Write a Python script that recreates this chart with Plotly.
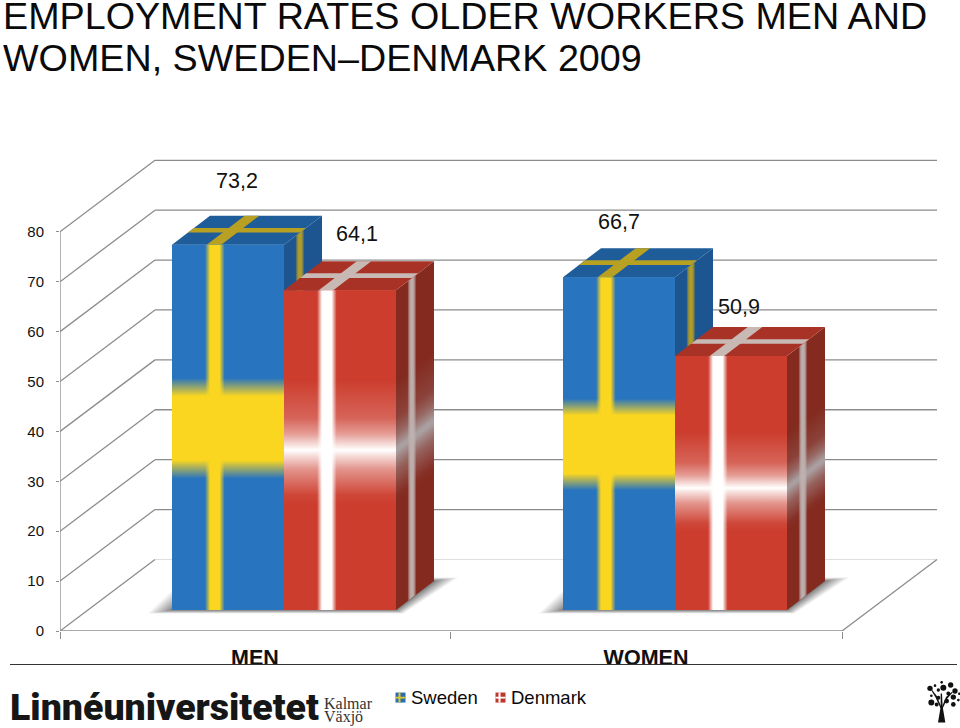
import numpy as np
import plotly.graph_objects as go

CATEGORIES = ["MEN", "WOMEN"]
SWEDEN = [73.2, 66.7]
DENMARK = [64.1, 50.9]
Y_TICKS = [0, 10, 20, 30, 40, 50, 60, 70, 80]
TITLE_1 = "EMPLOYMENT RATES OLDER WORKERS MEN AND"
TITLE_2 = "WOMEN, SWEDEN\u2013DENMARK 2009"

# pixel geometry of the oblique chart
W_PX, H_PX = 960, 728
X0_PX, X1_PX = 60, 938
Y0_PX = 631
UNIT = 4.986
CAT_PX = 391
CENTER_PX = 255
T_PX = Y0_PX - 96 * UNIT


def X(p):
    return (p - CENTER_PX) / CAT_PX


def PX(p):
    return (p - X0_PX) / (X1_PX - X0_PX)


def PY(p):
    return (Y0_PX - p) / (Y0_PX - T_PX)


BAR_W = 112 / CAT_PX
OFFSETS = {"Sweden": -83 / CAT_PX, "Denmark": 29 / CAT_PX}
DX, DY = 38 / CAT_PX, 29 / UNIT
BASE = (Y0_PX - 610) / UNIT
WALL_DX, WALL_DY = 95 / CAT_PX, 71.5 / UNIT

STYLE = {
    "Sweden": dict(front="#2874BE", side="#1C5590", top="#1F5C9A", mark="250,214,32",
                   top_mark="#B8A022", side_mark="181,158,38"),
    "Denmark": dict(front="#CC3D2E", side="#842A1F", top="#A93226", mark="255,255,255",
                    top_mark="#C9B9B4", side_mark="190,178,176"),
}
BAND = {
    "Sweden": ([0, .36, .41, .585, .635, 1], [0, 0, 1, 1, 0, 0]),
    "Denmark": ([0, .33, .36, .40, .44, .48, .50, .51, .55, .60, .66, .72, 1],
                [0, 0, .05, .25, .45, .8, 1, .9, .5, .2, .1, 0, 0]),
}
BAND_SHIFT = {"Sweden": [0, 0], "Denmark": [0, -.02]}
STRIPE = ([0, .295, .34, .425, .47, 1], [0, 0, 1, 1, 0, 0])
SIDE_BAND_RGB = (172, 166, 168)


def hex_rgb(h):
    return tuple(int(h[i:i + 2], 16) for i in (1, 3, 5))


def scale(stops, rgb):
    return [[f, f"rgba({rgb},{a})"] for f, a in zip(*stops)]


def shifted(stops, d):
    fr, al = stops
    return ([fr[0]] + [f + d for f in fr[1:-1]] + [fr[-1]], al)


def poly(pts, **kw):
    xs = [p[0] for p in pts] + [pts[0][0]]
    ys = [p[1] for p in pts] + [pts[0][1]]
    return go.Scatter(x=xs, y=ys, mode="lines", line=dict(width=0), fill="toself",
                      hoverinfo="skip", showlegend=False, **kw)


fig = go.Figure()

for name, vals in (("Sweden", SWEDEN), ("Denmark", DENMARK)):
    fig.add_trace(go.Bar(x=[0, 1], y=vals, base=BASE, width=BAR_W, offset=OFFSETS[name],
                         name=name, marker=dict(color=STYLE[name]["front"], line=dict(width=0)),
                         showlegend=False))

for c in range(len(CATEGORIES)):
    for name, vals in (("Sweden", SWEDEN), ("Denmark", DENMARK)):
        st = STYLE[name]
        h = vals[c]
        left = c + OFFSETS[name]
        band_stops = shifted(BAND[name], BAND_SHIFT[name][c])

        def P(u, v, w):
            return (left + u * BAR_W + v * DX, BASE + w * h + v * DY)

        # side face
        fig.add_trace(poly([P(1, 0, 0), P(1, 1, 0), P(1, 1, 1), P(1, 0, 1)], fillcolor=st["side"]))
        if name == "Denmark":
            side = np.array(hex_rgb(st["side"]))
            band = np.array(SIDE_BAND_RGB)
            edges = np.arange(.30, .73, .01)
            for a, b in zip(edges[:-1], edges[1:]):
                alpha = np.interp((a + b) / 2, *band_stops)
                col = side + (band - side) * alpha
                fig.add_trace(poly([P(1, 0, a), P(1, 1, a), P(1, 1, b + .004), P(1, 0, b + .004)],
                                   fillcolor="rgb(%d,%d,%d)" % tuple(col)))
        fig.add_trace(poly([P(1, .30, 0), P(1, .54, 0), P(1, .54, 1), P(1, .30, 1)],
                           fillgradient=dict(type="horizontal", start=P(1, .30, 0)[0],
                                             stop=P(1, .54, 0)[0],
                                             colorscale=scale(([0, .2, .4, .7, 1], [0, 0.7, 1, .9, 0]),
                                                              st["side_mark"]))))
        # top face
        fig.add_trace(poly([P(0, 0, 1), P(1, 0, 1), P(1, 1, 1), P(0, 1, 1)], fillcolor=st["top"]))
        fig.add_trace(poly([P(0, .42, 1), P(1, .42, 1), P(1, .58, 1), P(0, .58, 1)], fillcolor=st["top_mark"]))
        fig.add_trace(poly([P(.31, 0, 1), P(.44, 0, 1), P(.44, 1, 1), P(.31, 1, 1)], fillcolor=st["top_mark"]))
        # front face
        fig.add_trace(poly([P(0, 0, 0), P(1, 0, 0), P(1, 0, 1), P(0, 0, 1)], fillcolor=st["front"]))
        fig.add_trace(poly([P(0, 0, 0), P(1, 0, 0), P(1, 0, 1), P(0, 0, 1)],
                           fillgradient=dict(type="vertical", start=BASE, stop=BASE + h,
                                             colorscale=scale(band_stops, st["mark"]))))
        fig.add_trace(poly([P(0, 0, 0), P(1, 0, 0), P(1, 0, 1), P(0, 0, 1)],
                           fillgradient=dict(type="horizontal", start=left, stop=left + BAR_W,
                                             colorscale=scale(STRIPE, st["mark"]))))

# value labels
LABEL_SHIFT = {"Sweden": [(9, -64), (0, -55)], "Denmark": [(17, -56), (8, -49)]}
annotations = []
for name, vals in (("Sweden", SWEDEN), ("Denmark", DENMARK)):
    for c, v in enumerate(vals):
        sx, sy = LABEL_SHIFT[name][c]
        annotations.append(dict(x=c + OFFSETS[name] + BAR_W / 2, y=BASE + v, xref="x", yref="y",
                                text=f"{v:.1f}".replace(".", ","), showarrow=False,
                                xshift=sx, yshift=-sy, xanchor="center", yanchor="middle",
                                font=dict(size=21.5, color="#111")))


def note(text, xp, yp, size, xanchor="left", color="#0A0A0A", family="Liberation Sans", weight=None):
    font = dict(size=size, color=color, family=family)
    if weight:
        font["weight"] = weight
    annotations.append(dict(x=PX(xp), y=PY(yp), xref="paper", yref="paper", text=text,
                            showarrow=False, xanchor=xanchor, yanchor="middle",
                            borderpad=0, font=font))


note(TITLE_1, 2, 16, 37.7)
note(TITLE_2, 2, 58.5, 37.7)
note("Linn\u00e9universitetet", 9, 707, 37.5, family="Roboto", color="#161616", weight=900)
note("Kalmar", 323, 703, 16, family="Liberation Serif", color="#333")
note("V\u00e4xj\u00f6", 323, 717, 16, family="Liberation Serif", color="#333")
note("Sweden", 409.5, 697, 18.5)
note("Denmark", 509.5, 697, 18.5)

# walls, floor, shadows, logo
GRID = "#8C8C8C"
shapes = []


def seg(x0, y0, x1, y1, color=GRID, width=1.3):
    shapes.append(dict(type="line", xref="x", yref="y", x0=x0, y0=y0, x1=x1, y1=y1,
                       layer="below", line=dict(color=color, width=width)))


xl, xr = X(60), X(842)
for t in Y_TICKS[1:]:
    seg(xl, t, xl + WALL_DX, t + WALL_DY)
    seg(xl + WALL_DX, t + WALL_DY, xr + WALL_DX, t + WALL_DY)
seg(xl, 0, xl + WALL_DX, WALL_DY)
seg(xl + WALL_DX, WALL_DY, xr + WALL_DX, WALL_DY, color="#DDDDDD", width=1)
seg(xr, 0, xr + WALL_DX, WALL_DY)
seg(xl, 0, xl, 80)
seg(xl, 0, xr, 0)

for c in range(2):
    L = c + OFFSETS["Sweden"]
    R = c + OFFSETS["Denmark"] + BAR_W
    for e in np.linspace(.06, 1, 16) ** 1.6:
        ex = e * 24 / CAT_PX
        ey = e * 3.5 / UNIT
        pts = [(L - ex, BASE - ey), (R + ex * .3, BASE - ey), (R + DX + ex, BASE + DY + ey),
               (L + DX - ex, BASE + DY + ey)]
        path = "M" + "L".join(f"{a:.4f},{b:.4f}" for a, b in pts) + "Z"
        shapes.append(dict(type="path", xref="x", yref="y", path=path, layer="below",
                           fillcolor="rgba(40,40,40,0.055)", line=dict(width=0)))


def paper_rect(x0, y0, x1, y1, color):
    shapes.append(dict(type="rect", xref="paper", yref="paper", x0=PX(x0), x1=PX(x1),
                       y0=PY(y0), y1=PY(y1), fillcolor=color, line=dict(width=0), layer="above"))


shapes.append(dict(type="line", xref="paper", yref="paper", x0=PX(10), x1=PX(957), y0=PY(664.5),
                   y1=PY(664.5), line=dict(color="#333", width=1.2), layer="above"))

paper_rect(395.5, 692.5, 405.5, 702.5, "#2A6DB0")
paper_rect(398.5, 692.5, 400.5, 702.5, "#DCC830")
paper_rect(395.5, 696.7, 405.5, 698.5, "#DCC830")
paper_rect(495.5, 692.5, 505.5, 702.5, "#BE352B")
paper_rect(498.5, 692.5, 500.5, 702.5, "#FFFFFF")
paper_rect(495.5, 696.7, 505.5, 698.5, "#FFFFFF")

TREE = [(30, 40, 8), (45, 32, 4), (65, 22, 4), (70, 38, 9), (92, 30, 8), (105, 48, 8), (85, 55, 6),
        (100, 66, 8), (118, 56, 4), (34, 62, 4), (34, 82, 9), (55, 68, 6), (50, 88, 6), (80, 78, 7),
        (100, 88, 7), (115, 75, 4), (55, 45, 5)]
for tx, ty, tr in TREE:
    cx, cy, r = 920 + tx / 3, 675 + ty / 3, tr / 3
    shapes.append(dict(type="circle", xref="paper", yref="paper", x0=PX(cx - r), x1=PX(cx + r),
                       y0=PY(cy - r), y1=PY(cy + r), fillcolor="#111", line=dict(width=0)))


def tree_path(pts):
    return "M" + "L".join(f"{PX(920 + a / 3):.5f},{PY(675 + b / 3):.5f}" for a, b in pts) + "Z"


for pts in ([(54, 142), (76, 142), (68, 95), (66, 55), (62, 55), (62, 95)],
            [(62, 100), (66, 100), (50, 62), (36, 44), (34, 46), (46, 66)],
            [(64, 100), (68, 100), (82, 70), (98, 52), (96, 50), (78, 66)]):
    shapes.append(dict(type="path", xref="paper", yref="paper", path=tree_path(pts),
                       fillcolor="#111", line=dict(width=0)))

fig.update_layout(
    width=W_PX, height=H_PX, autosize=False,
    margin=dict(l=X0_PX, r=W_PX - X1_PX, t=T_PX, b=H_PX - Y0_PX, pad=0),
    paper_bgcolor="white", plot_bgcolor="white", barmode="overlay", showlegend=False,
    font=dict(family="Liberation Sans", color="#111"),
    xaxis=dict(range=[X(X0_PX), X(X1_PX)], showgrid=False, zeroline=False, showline=False,
               tickmode="array", tickvals=[0, 1], ticktext=[f"<b>{c}</b>" for c in CATEGORIES],
               ticks="outside", ticklen=0, tickfont=dict(size=21.5, color="#111"),
               ticklabelstandoff=7,
               minor=dict(tickmode="array", tickvals=[X(60), X(450), X(842)], ticks="outside",
                          ticklen=7, tickcolor=GRID, tickwidth=1.3)),
    yaxis=dict(range=[0, 96], showgrid=False, zeroline=False, showline=False,
               tickmode="array", tickvals=Y_TICKS, ticks="outside", ticklen=3, tickcolor=GRID,
               tickwidth=1.3, ticklabelstandoff=9, tickfont=dict(size=15, color="#111")),
    annotations=annotations, shapes=shapes,
)

fig.write_html("out.html", config=dict(displayModeBar=False),
               post_script="document.body.style.margin='0';document.body.style.overflow='hidden';")
